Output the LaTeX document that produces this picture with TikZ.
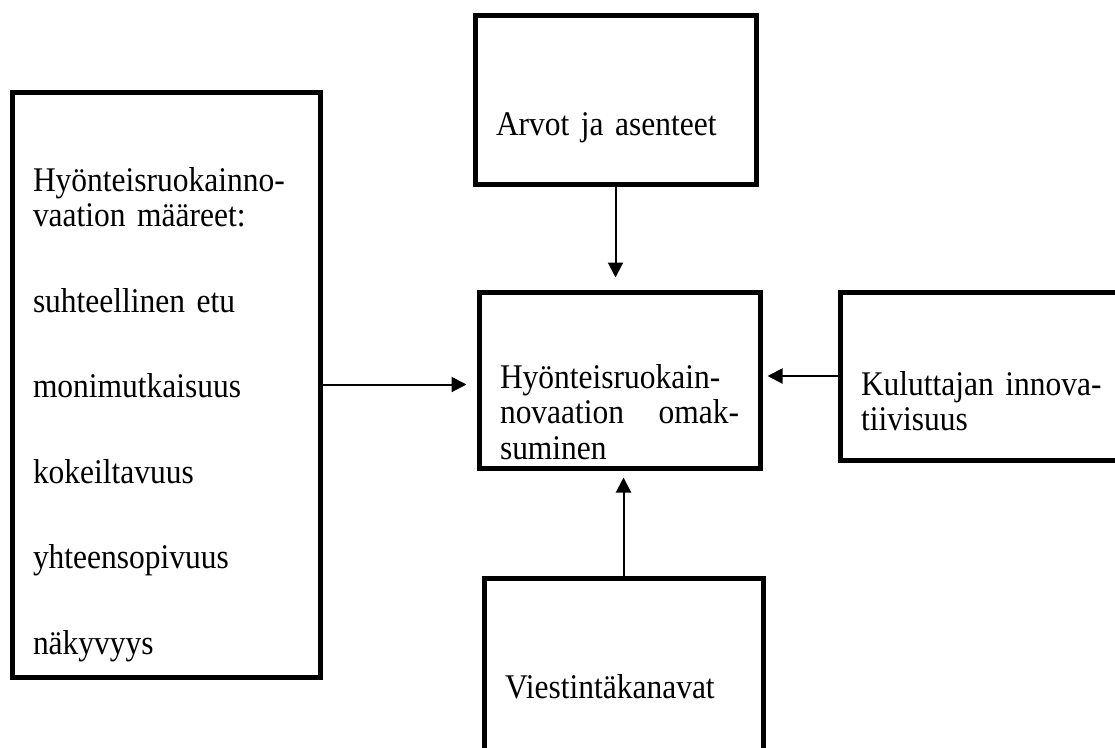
\documentclass[tikz,border=0pt]{standalone}
\usepackage{fontspec}
\setmainfont{Liberation Serif}[FakeStretch=0.91]
\usetikzlibrary{arrows.meta}
\tikzset{
  >={Triangle[length=15pt,width=15pt]},
  box/.style={draw,line width=5pt,inner xsep=21pt,inner ysep=0pt,
    align=left,font=\fontsize{34.6}{35.5}\selectfont},
  flow/.style={->,line width=2pt},
}
\begin{document}
\begin{tikzpicture}[x=1pt,y=-1pt]
  \useasboundingbox (0,0) rectangle (1115,747);
  \clip (0,0) rectangle (1115,747);
  % boxes
  \node[box,text width=266pt,text height=99pt,text depth=486pt] (maareet) at (166,384.5)
    {Hyönteisruokainno-\\vaation määreet:\\[50pt]suhteellinen etu\\[50pt]monimutkaisuus\\[50pt]kokeiltavuus\\[50pt]yhteensopivuus\\[50pt]näkyvyys};
  \node[box,text width=239pt,text height=120pt,text depth=49pt] (arvot) at (615.5,99.5)
    {Arvot ja asenteet};
  \node[box,text width=239pt,text height=96pt,text depth=80pt] (omaks) at (619.5,380)
    {Hyönteisruokain-\\novaation\hfill omak-\\suminen};
  \node[box,text width=250pt,text height=103pt,text depth=65pt] (kuluttaja) at (986,376)
    {Kuluttajan innova-\\tiivisuus};
  \node[box,text width=237pt,text height=120pt,text depth=58pt] (viestinta) at (623.5,667)
    {Viestintäkanavat};
  % arrows
  \draw[flow,shorten >=12pt] (arvot.south) -- (arvot.south |- omaks.north);
  \draw[flow,shorten >=10pt] (maareet.east) -- (maareet.east -| omaks.west);
  \draw[flow,shorten >=5pt] (kuluttaja.west) -- (kuluttaja.west -| omaks.east);
  \draw[flow,shorten >=7pt] (viestinta.north) -- (viestinta.north |- omaks.south);
\end{tikzpicture}
\end{document}
